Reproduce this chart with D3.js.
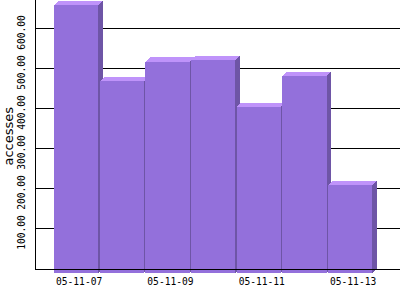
<!DOCTYPE html>
<html>
<head>
<meta charset="utf-8">
<script src="https://cdn.jsdelivr.net/npm/d3@7"></script>
<style>
  html, body { margin: 0; padding: 0; background: #fff; }
  svg { display: block; }
</style>
</head>
<body>
<svg id="chart"></svg>
<script>
// data
const dates = ['05-11-07', '05-11-08', '05-11-09', '05-11-10', '05-11-11', '05-11-12', '05-11-13'];
const accesses = [670, 479, 528, 532, 415, 492, 220];
const yTicks = [100, 200, 300, 400, 500, 600];
const xTickLabels = ['05-11-07', '05-11-09', '05-11-11', '05-11-13'];

const width = 400, height = 300;
const depth = 4.5; // 3d offset of the bars

const svg = d3.select('#chart')
  .attr('width', width)
  .attr('height', height)
  .attr('shape-rendering', 'crispEdges');

const x = d3.scaleBand()
  .domain(dates)
  .range([54, 373.7])
  .padding(0);

const y = d3.scaleLinear()
  .domain([0, 700])
  .range([268.5, -11.5]);

const barW = x.bandwidth() - 1.4;

// gridlines (behind the bars)
svg.append('g')
  .selectAll('line')
  .data(yTicks)
  .enter()
  .append('line')
  .attr('x1', 35)
  .attr('x2', width)
  .attr('y1', d => y(d))
  .attr('y2', d => y(d))
  .attr('stroke', '#000');

// bars: front, top and side faces
const bars = svg.append('g')
  .selectAll('g')
  .data(dates.map((d, i) => ({ date: d, value: accesses[i] })))
  .enter()
  .append('g');

bars.append('rect')
  .attr('x', d => x(d.date))
  .attr('y', d => y(d.value) + depth)
  .attr('width', barW)
  .attr('height', d => y(0) - y(d.value))
  .attr('fill', '#9370db');

bars.append('path')
  .attr('fill', '#bf93fa')
  .attr('d', d => {
    const x0 = x(d.date), yf = y(d.value) + depth;
    return 'M' + x0 + ',' + yf +
      'L' + (x0 + depth) + ',' + (yf - depth) +
      'L' + (x0 + barW + depth) + ',' + (yf - depth) +
      'L' + (x0 + barW) + ',' + yf + 'Z';
  });

bars.append('path')
  .attr('fill', '#6e55a6')
  .attr('d', d => {
    const x1 = x(d.date) + barW, yf = y(d.value) + depth, yb = y(0) + depth;
    return 'M' + x1 + ',' + yf +
      'L' + (x1 + depth) + ',' + (yf - depth) +
      'L' + (x1 + depth) + ',' + (yb - depth) +
      'L' + x1 + ',' + yb + 'Z';
  });

// axis lines on top
svg.append('line')
  .attr('x1', 35).attr('x2', width)
  .attr('y1', y(0) + 1).attr('y2', y(0) + 1)
  .attr('stroke', '#000');

svg.append('line')
  .attr('x1', 35.5).attr('x2', 35.5)
  .attr('y1', 0).attr('y2', y(0) + 1)
  .attr('stroke', '#000');

// y tick labels, rotated
svg.append('g')
  .selectAll('text')
  .data(yTicks)
  .enter()
  .append('text')
  .attr('transform', d => 'translate(25,' + (y(d) + 4) + ') rotate(-90)')
  .attr('text-anchor', 'middle')
  .style('font-family', 'DejaVu Sans Mono')
  .style('font-size', '9.6px')
  .text(d => d3.format('.2f')(d));

// x tick labels, every other day
svg.append('g')
  .selectAll('text')
  .data(xTickLabels)
  .enter()
  .append('text')
  .attr('x', d => x(d) + 2)
  .attr('y', 285)
  .style('font-family', 'DejaVu Sans Mono')
  .style('font-size', '9.6px')
  .text(d => d);

// y axis title
svg.append('text')
  .attr('transform', 'translate(13,' + (y(0) / 2 + 2) + ') rotate(-90)')
  .attr('text-anchor', 'middle')
  .style('font-family', 'DejaVu Sans')
  .style('font-size', '13px')
  .text('accesses');
</script>
</body>
</html>
